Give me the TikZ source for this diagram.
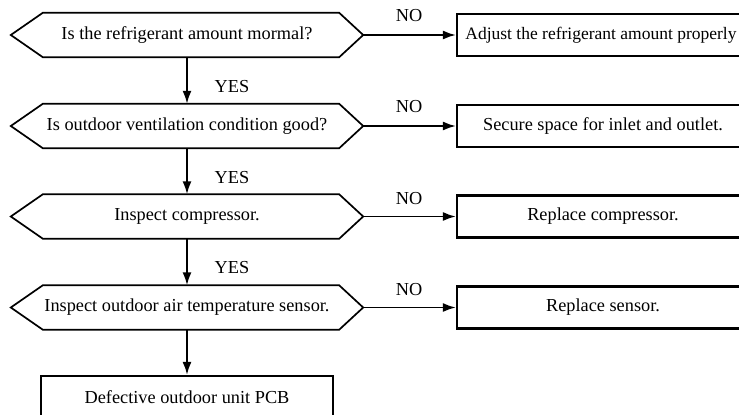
\documentclass[tikz,border=0pt]{standalone}
\usepackage{fontspec}
\setmainfont{Liberation Serif}
\usetikzlibrary{arrows.meta}
\newcommand\hexdraw[1]{\draw[hexline] ([xshift=32pt]#1.north west) -- ([xshift=-24pt]#1.north east) -- (#1.east) -- ([xshift=-24pt]#1.south east) -- ([xshift=32pt]#1.south west) -- (#1.west) -- cycle;}
\begin{document}
\begin{tikzpicture}[x=1pt,y=-1pt,
  every node/.style={font=\fontsize{18.3}{21}\selectfont},
  hexq/.style={minimum width=352pt, minimum height=44pt, inner sep=0pt},
  hexline/.style={line width=1.7pt, line join=miter},
  actbox/.style={draw, line width=2.2pt, minimum width=292pt, minimum height=42pt, inner sep=0pt},
  conn/.style={line width=1.9pt, -{Latex[length=13pt,width=9pt]}},
  lbl/.style={inner sep=0pt}
]
\useasboundingbox (0,0) rectangle (739,415);
\node[hexq] (h1) at (187,35) {Is the refrigerant amount mormal?};
\node[hexq] (h2) at (187,126) {Is outdoor ventilation condition good?};
\node[hexq] (h3) at (187,216.5) {Inspect compressor.};
\node[hexq] (h4) at (187,307.5) {Inspect outdoor air temperature sensor.};
\hexdraw{h1}\hexdraw{h2}\hexdraw{h3}\hexdraw{h4}
\node[actbox, font=\fontsize{17.5}{21}\selectfont] (a1) at (603,35) {\hspace*{-4pt}Adjust the refrigerant amount properly};
\node[actbox] (a2) at (603,126) {Secure space for inlet and outlet.};
\node[actbox] (a3) at (603,216.5) {Replace compressor.};
\node[actbox] (a4) at (603,307.5) {Replace sensor.};
\node[actbox] (d) at (187,397) {Defective outdoor unit PCB};
\draw[conn] (h1.south) -- (h2.north);
\draw[conn] (h2.south) -- (h3.north);
\draw[conn] (h3.south) -- (h4.north);
\draw[conn] (h4.south) -- (d.north);
\draw[conn] (h1.east) -- (a1.west);
\draw[conn] (h2.east) -- (a2.west);
\draw[conn] (h3.east) -- (a3.west);
\draw[conn] (h4.east) -- (a4.west);
\node[lbl] (y1) at (232,87) {YES};
\node[lbl] (y2) at (232,178) {YES};
\node[lbl] (y3) at (232,268) {YES};
\node[lbl] (n1) at (409,16) {NO};
\node[lbl] (n2) at (409,107) {NO};
\node[lbl] (n3) at (409,199) {NO};
\node[lbl] (n4) at (409,290) {NO};
\end{tikzpicture}
\end{document}
